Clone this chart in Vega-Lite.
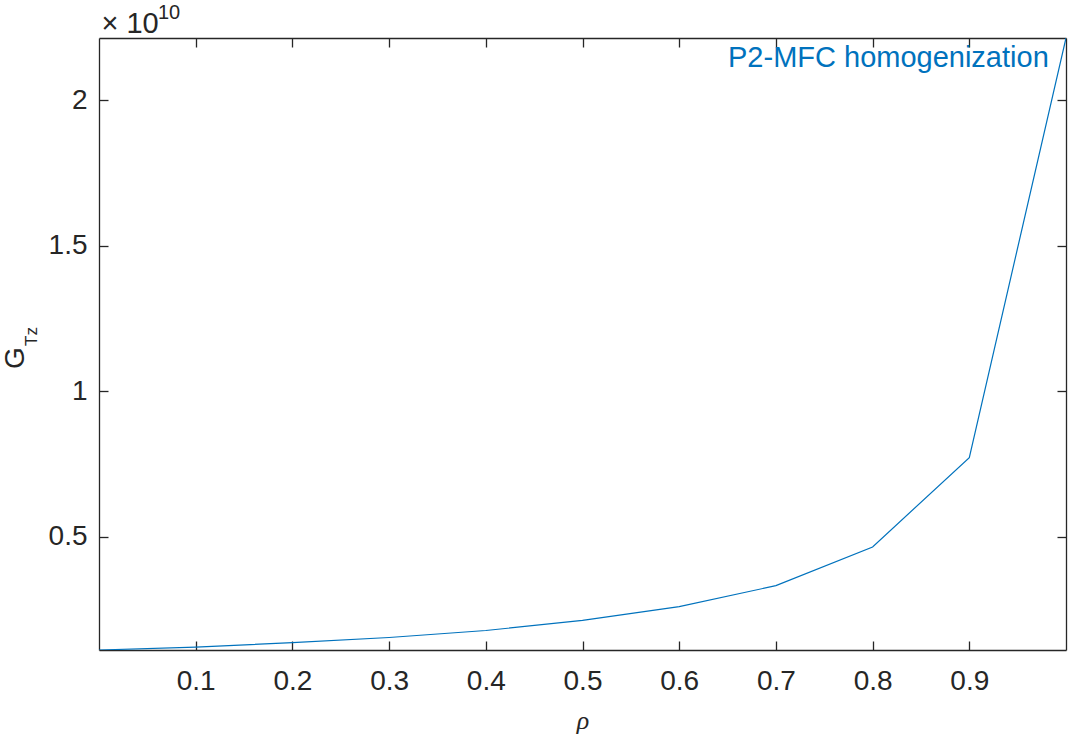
{
  "$schema": "https://vega.github.io/schema/vega-lite/v6.json",
  "width": 967,
  "height": 612,
  "autosize": {"type": "none"},
  "padding": {"left": 99, "top": 38, "right": 2, "bottom": 84},
  "background": "white",
  "title": {
    "text": "10",
    "anchor": "start",
    "frame": "group",
    "orient": "top",
    "fontSize": 20,
    "fontWeight": "normal",
    "font": "Liberation Sans",
    "color": "#262626",
    "baseline": "alphabetic",
    "offset": 0,
    "dx": 59,
    "dy": 30
  },
  "config": {
    "view": {"stroke": null},
    "font": "Liberation Sans",
    "axis": {
      "domainColor": "#262626",
      "domainWidth": 1.3,
      "tickColor": "#262626",
      "tickWidth": 1.3,
      "tickSize": -9,
      "grid": false,
      "labelColor": "#262626",
      "labelFont": "Liberation Sans",
      "labelFontSize": 28,
      "titleColor": "#262626",
      "titleFontWeight": "normal"
    }
  },
  "data": {
    "values": [
      {"rho": 0.0, "G": 1.11e9, "series": "P2-MFC homogenization"},
      {"rho": 0.1, "G": 1.21e9, "series": "P2-MFC homogenization"},
      {"rho": 0.2, "G": 1.36e9, "series": "P2-MFC homogenization"},
      {"rho": 0.3, "G": 1.54e9, "series": "P2-MFC homogenization"},
      {"rho": 0.4, "G": 1.78e9, "series": "P2-MFC homogenization"},
      {"rho": 0.5, "G": 2.125e9, "series": "P2-MFC homogenization"},
      {"rho": 0.6, "G": 2.60e9, "series": "P2-MFC homogenization"},
      {"rho": 0.7, "G": 3.32e9, "series": "P2-MFC homogenization"},
      {"rho": 0.8, "G": 4.65e9, "series": "P2-MFC homogenization"},
      {"rho": 0.9, "G": 7.72e9, "series": "P2-MFC homogenization"},
      {"rho": 1.0, "G": 2.2135e10, "series": "P2-MFC homogenization"}
    ]
  },
  "layer": [
    {
      "mark": {"type": "line", "strokeWidth": 1.2, "clip": true},
      "encoding": {
        "x": {
          "field": "rho", "type": "quantitative",
          "scale": {"domain": [0, 1], "nice": false, "zero": false},
          "axis": {
            "orient": "bottom",
            "values": [0.1, 0.2, 0.3, 0.4, 0.5, 0.6, 0.7, 0.8, 0.9],
            "format": ".1f",
            "labelPadding": 26,
            "title": "ρ",
            "titleFont": "Liberation Serif",
            "titleFontStyle": "italic",
            "titleFontSize": 26,
            "titleBaseline": "alphabetic",
            "titleY": 78
          }
        },
        "y": {
          "field": "G", "type": "quantitative",
          "scale": {"domain": [1.11e9, 2.2135e10], "nice": false, "zero": false},
          "axis": {
            "orient": "left",
            "values": [5e9, 1e10, 1.5e10, 2e10],
            "labelExpr": "format(datum.value / 1e10, '~g')",
            "labelPadding": 21,
            "title": "G",
            "titleFontSize": 28,
            "titleAngle": 270,
            "titleAlign": "center",
            "titleBaseline": "alphabetic",
            "titleX": -76,
            "titleY": 319.5
          }
        },
        "color": {
          "field": "series", "type": "nominal",
          "scale": {"range": ["#0072BD"]},
          "legend": {
            "orient": "none",
            "legendX": 600,
            "legendY": 5,
            "title": null,
            "padding": 0,
            "labelFontSize": 29,
            "labelFont": "Liberation Sans",
            "labelColor": "#0072BD",
            "labelOffset": 0,
            "labelLimit": 500,
            "symbolSize": 0,
            "symbolOpacity": 0,
            "symbolStrokeWidth": 0
          }
        }
      }
    },
    {
      "mark": {"type": "line", "opacity": 0},
      "encoding": {
        "x": {
          "field": "rho", "type": "quantitative",
          "scale": {"domain": [0, 1], "nice": false, "zero": false},
          "axis": {
            "orient": "top",
            "values": [0.1, 0.2, 0.3, 0.4, 0.5, 0.6, 0.7, 0.8, 0.9],
            "labels": false,
            "title": "× 10",
            "titleFontSize": 29,
            "titleAngle": 0,
            "titleAlign": "left",
            "titleBaseline": "alphabetic",
            "titleX": 2,
            "titleY": -6
          }
        },
        "y": {
          "field": "G", "type": "quantitative",
          "scale": {"domain": [1.11e9, 2.2135e10], "nice": false, "zero": false},
          "axis": {
            "orient": "right",
            "values": [5e9, 1e10, 1.5e10, 2e10],
            "labels": false,
            "title": "Tz",
            "titleFontSize": 17,
            "titleAngle": 270,
            "titleAlign": "center",
            "titleBaseline": "alphabetic",
            "titleX": -1029.5,
            "titleY": 298
          }
        }
      }
    }
  ],
  "resolve": {
    "scale": {"x": "independent", "y": "independent"},
    "axis": {"x": "independent", "y": "independent"}
  }
}
